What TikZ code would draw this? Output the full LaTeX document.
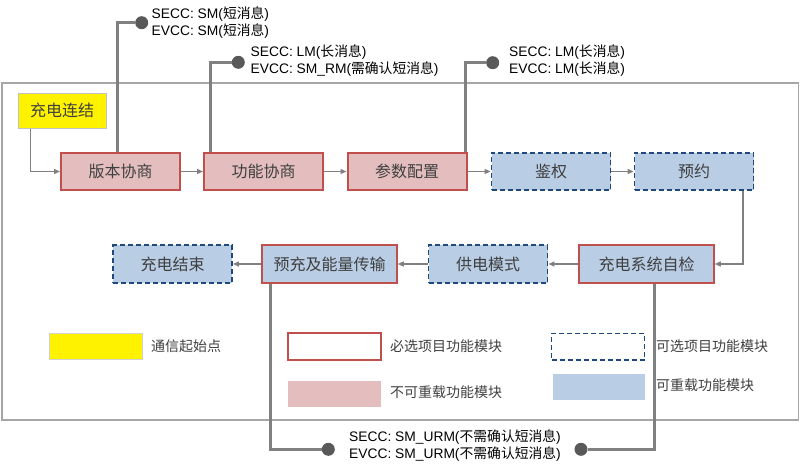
\documentclass[tikz,border=0pt]{standalone}
\usepackage{fontspec}
\setmainfont{Liberation Sans}
\newfontfamily\cjk{Noto Sans CJK SC}
\usetikzlibrary{arrows.meta,calc}
\definecolor{redb}{HTML}{C0504D}
\definecolor{pinkf}{HTML}{E4BEBE}
\definecolor{blueb}{HTML}{1F497D}
\definecolor{bluef}{HTML}{B9CDE5}
\definecolor{linegray}{HTML}{808080}
\definecolor{dotgray}{HTML}{595959}
\definecolor{framegray}{HTML}{A6A6A6}
\definecolor{txtgray}{HTML}{3F3F3F}
\tikzset{
  box/.style={minimum height=37.5pt, minimum width=119pt, inner sep=0pt, text=txtgray, font=\cjk\fontsize{16}{16}\selectfont},
  mandnr/.style={box, draw=redb, line width=2pt, fill=pinkf},
  mandr/.style={box, draw=redb, line width=2pt, fill=bluef},
  optr/.style={box, draw=blueb, line width=1.8pt, dash pattern=on 5pt off 3pt, fill=bluef},
  flow/.style={draw=linegray, line width=1.3pt, -{Triangle[length=6pt,width=5pt]}},
  msg/.style={draw=linegray, line width=3pt},
  dot/.style={circle, fill=dotgray, minimum size=13pt, inner sep=0pt},
  msgtxt/.style={inner sep=0pt, align=left, font=\fontsize{13.8}{17}\selectfont, text=black},
  legtxt/.style={inner sep=0pt, anchor=west, text=txtgray, font=\cjk\fontsize{14}{14}\selectfont},
}
\begin{document}
\begin{tikzpicture}[x=1pt,y=-1pt]
\useasboundingbox (0,0) rectangle (800,471);
% frame
\draw[framegray, line width=1.5pt] (2,83) rectangle (798.5,420);
% start node
\node[draw=framegray!70, line width=1pt, fill=yellow, minimum width=88pt, minimum height=35pt, inner sep=0pt, text=txtgray, font=\cjk\fontsize{16}{16}\selectfont] (c) at (62,110.5) {充电连结};
% row 1
\node[mandnr] (v) at (120.5,171.5) {版本协商};
\node[mandnr] (f) at (263.5,171.5) {功能协商};
\node[mandnr] (p) at (407,171.5) {参数配置};
\node[optr] (a) at (551,171.5) {鉴权};
\node[optr] (r) at (694,171.5) {预约};
% row 2
\node[optr] (e) at (172.5,264) {充电结束};
\node[mandr, minimum width=134.5pt] (y) at (329.5,264) {预充及能量传输};
\node[optr] (g) at (488,264) {供电模式};
\node[mandr, minimum width=134.5pt] (z) at (646.5,264) {充电系统自检};
% flow arrows
\draw[flow] ([xshift=13pt]c.south west) |- (v.west);
\draw[flow] (v) -- (f);
\draw[flow] (f) -- (p);
\draw[flow] (p) -- (a);
\draw[flow] (a) -- (r);
\draw[flow] ([xshift=-11.5pt]r.south east) |- (z.east);
\draw[flow] (z) -- (g);
\draw[flow] (g) -- (y);
\draw[flow] (y) -- (e);
% message dots
\node[dot] (d1) at (141.7,22.7) {};
\node[dot] (d2) at (238.3,62.3) {};
\node[dot] (d3) at (492.7,62.7) {};
\node[dot] (d4) at (328.3,449.3) {};
\node[dot] (d5) at (581,449.3) {};
\draw[msg] ([xshift=-3.2pt]v.north) |- (d1);
\draw[msg] ([xshift=7.7pt]f.north west) |- (d2);
\draw[msg] ([xshift=-2pt]p.north east) |- (d3);
\draw[msg] ([xshift=9.4pt]y.south west) |- (d4);
\draw[msg] ([xshift=7.5pt]z.south) |- (d5);
% message texts
\node[msgtxt, anchor=west] (t1) at (151.5,22.5) {SECC: SM({\cjk 短消息})\\EVCC: SM({\cjk 短消息})};
\node[msgtxt, anchor=west] (t2) at (250.5,61) {SECC: LM({\cjk 长消息})\\EVCC: SM\_RM({\cjk 需确认短消息})};
\node[msgtxt, anchor=west] (t3) at (509,61) {SECC: LM({\cjk 长消息})\\EVCC: LM({\cjk 长消息})};
\node[msgtxt, anchor=west] (t4) at (349,446) {SECC: SM\_URM({\cjk 不需确认短消息})\\EVCC: SM\_URM({\cjk 不需确认短消息})};
% legend
\node[fill=yellow, draw=framegray!50, line width=1pt, minimum width=93pt, minimum height=26.5pt, inner sep=0pt] (l1) at (95.7,346.7) {};
\node[legtxt] (l1t) at (151,346) {通信起始点};
\node[draw=redb, line width=2pt, minimum width=92.5pt, minimum height=26.5pt, inner sep=0pt] (l2) at (334.7,346.7) {};
\node[legtxt] (l2t) at (390,346) {必选项目功能模块};
\node[fill=pinkf, minimum width=93pt, minimum height=26pt, inner sep=0pt] (l3) at (334.7,393.8) {};
\node[legtxt] (l3t) at (390,392.5) {不可重载功能模块};
\node[draw=blueb, line width=1.8pt, dash pattern=on 5pt off 3pt, minimum width=93pt, minimum height=26.5pt, inner sep=0pt] (l4) at (598,346.7) {};
\node[legtxt] (l4t) at (656,346) {可选项目功能模块};
\node[fill=bluef, minimum width=92.5pt, minimum height=26.5pt, inner sep=0pt] (l5) at (598.8,386.8) {};
\node[legtxt] (l5t) at (656,385.5) {可重载功能模块};
\end{tikzpicture}
\end{document}
